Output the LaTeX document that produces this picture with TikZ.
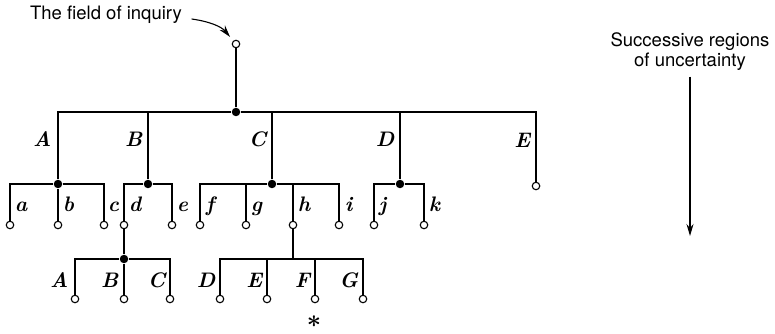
\documentclass[tikz,border=0pt]{standalone}
\usepackage{fontspec}
\newfontfamily\heros{TeX Gyre Heros}
\usetikzlibrary{arrows.meta}

\begin{document}
\begin{tikzpicture}[x=1pt, y=1pt, line width=1.6pt,
    leaf/.style={circle, draw, line width=1.1pt, minimum size=7.5pt, inner sep=0pt},
    junc/.style={circle, fill, minimum size=8.5pt, inner sep=0pt},
    uplbl/.style={anchor=base east, inner sep=0pt, font=\fontsize{21}{21}\selectfont\bfseries\itshape},
    lowlbl/.style={anchor=base west, inner sep=0pt, font=\fontsize{21}{21}\selectfont\bfseries\itshape},
    sanstext/.style={inner sep=2pt, align=center, font=\fontsize{18.5}{20}\selectfont\heros},
    pointer/.style={line width=1.1pt, -{Stealth[length=12pt, width=7pt, inset=4pt]}}]
    \useasboundingbox (0,0) rectangle (775,334);
    \node[leaf] (field) at (236,290) {};
    \node[junc] (top) at (236,222) {};
    \node[junc] (jA) at (58,150) {};  \node[junc] (jB) at (148,150) {};
    \node[junc] (jC) at (272,150) {}; \node[junc] (jD) at (400,150) {};
    \node[leaf] (E) at (536,148) {};
    \node[leaf] (a) at (10,109) {};  \node[leaf] (b) at (58,109) {};  \node[leaf] (c) at (104,109) {};
    \node[leaf] (d) at (124,109) {}; \node[leaf] (e) at (172,109) {};
    \node[leaf] (f) at (200,109) {}; \node[leaf] (g) at (246,109) {};
    \node[leaf] (h) at (293,109) {}; \node[leaf] (i) at (339,109) {};
    \node[leaf] (j) at (374,109) {}; \node[leaf] (k) at (424,109) {};
    \node[junc] (jd) at (124,75) {};
    \coordinate (jh) at (293,75);
    \node[leaf] (dA) at (75,35) {};  \node[leaf] (dB) at (124,35) {}; \node[leaf] (dC) at (170,35) {};
    \node[leaf] (hD) at (220,35) {}; \node[leaf] (hE) at (267,35) {};
    \node[leaf] (hF) at (315,35) {}; \node[leaf] (hG) at (363,35) {};

    \draw (field) -- (top);
    \draw (top) -| (jA); \draw (top) -| (jB); \draw (top) -| (jC);
    \draw (top) -| (jD); \draw (top) -| (E);
    \draw (jA) -| (a); \draw (jA) -- (b); \draw (jA) -| (c);
    \draw (jB) -| (d); \draw (jB) -| (e);
    \draw (jC) -| (f); \draw (jC) -| (g); \draw (jC) -| (h); \draw (jC) -| (i);
    \draw (jD) -| (j); \draw (jD) -| (k);
    \draw (d) -- (jd);
    \draw (jd) -| (dA); \draw (jd) -- (dB); \draw (jd) -| (dC);
    \draw (h) -- (jh);
    \draw (jh) -| (hD); \draw (jh) -| (hE); \draw (jh) -| (hF); \draw (jh) -| (hG);

    \node[uplbl] (lA) at (52,187) {A};  \node[uplbl] (lB) at (143,187) {B};
    \node[uplbl] (lC) at (267,187) {C}; \node[uplbl] (lD) at (395,187) {D};
    \node[uplbl] (lE) at (531,186) {E};
    \node[lowlbl] (la) at (14,122) {a};  \node[lowlbl] (lb) at (62,122) {b};
    \node[lowlbl] (lc) at (107,122) {c}; \node[lowlbl] (ld) at (128,122) {d};
    \node[lowlbl] (le) at (176,122) {e}; \node[lowlbl] (lf) at (205,122) {f};
    \node[lowlbl] (lg) at (250,122) {g}; \node[lowlbl] (lh) at (297,122) {h};
    \node[lowlbl] (li) at (344,122) {i}; \node[lowlbl] (lj) at (378,122) {j};
    \node[lowlbl] (lk) at (428,122) {k};
    \node[uplbl] (ldA) at (69,46) {A};  \node[uplbl] (ldB) at (119,46) {B};
    \node[uplbl] (ldC) at (166,46) {C}; \node[uplbl] (lhD) at (216,46) {D};
    \node[uplbl] (lhE) at (263,46) {E}; \node[uplbl] (lhF) at (311,46) {F};
    \node[uplbl] (lhG) at (359,46) {G};
    \node[font=\fontsize{30}{30}\selectfont\boldmath] (ast) at (314,12) {$\ast$};

    \node[sanstext] (fieldlbl) at (106,319) {The field of inquiry};
    \draw[pointer, shorten >=5pt] ([shift={(7pt,-4pt)}]fieldlbl.east) to[out=-8, in=130] (field);
    \node[sanstext] (regions) at (690,282) {Successive regions\\of uncertainty};
    \coordinate (regend) at (690,98);
    \draw[pointer, shorten <=3pt] (regions.south) -- (regend);
\end{tikzpicture}
\end{document}
